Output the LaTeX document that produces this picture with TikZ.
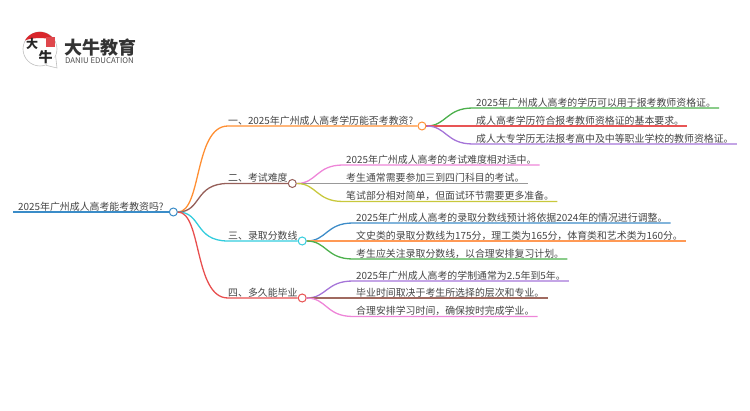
\documentclass[tikz,border=0pt]{standalone}
\usepackage{fontspec}
\setmainfont{Noto Sans CJK SC}
\usepackage{xcolor}
\usetikzlibrary{positioning}
\definecolor{inktext}{HTML}{444444}
\definecolor{rootblue}{HTML}{3A8CC8}
\definecolor{orange1}{HTML}{FF8F33}
\definecolor{brown1}{HTML}{96605A}
\definecolor{cyan1}{HTML}{33CCDD}
\definecolor{red1}{HTML}{E84F4F}
\definecolor{green1}{HTML}{4CB04C}
\definecolor{red2}{HTML}{E85555}
\definecolor{purple1}{HTML}{A574D8}
\definecolor{pink1}{HTML}{EE85D8}
\definecolor{grey1}{HTML}{999999}
\definecolor{olive1}{HTML}{C8C83C}
\definecolor{blue1}{HTML}{3D8CC8}
\definecolor{orange2}{HTML}{FF9955}
\definecolor{brown2}{HTML}{A06A60}
\definecolor{sealred}{HTML}{D9262C}
\begin{document}
\begin{tikzpicture}[
    x=1pt, y=1pt,
    txt/.style={anchor=south west, inner xsep=0pt, inner ysep=0.6pt, text=inktext, font=\fontsize{9.9}{12}\selectfont},
    leaf/.style={txt, inner xsep=3pt},
    dot/.style={circle, draw=#1, fill=white, line width=1pt, inner sep=0pt, minimum size=8pt, anchor=west},
    link/.style={line width=1.3pt, color=#1},
    hand/.style={font=\fontsize{#1}{#1}\bfseries\selectfont, text=black!85, inner sep=0pt}
]
\useasboundingbox (0,0) rectangle (750,410);

% Logo
\node[circle, draw=black!25, fill=white, line width=0.6pt, minimum size=34pt, inner sep=0pt] (bubble) at (40,361) {};
\coordinate (tail) at (57,342);
\draw[black!25, fill=white, line width=0.6pt] (bubble.-70) -- (tail) -- (bubble.-25);
\fill[sealred] (bubble.150) arc[start angle=150, end angle=30, radius=17pt] .. controls +(-8,3) and +(8,3) .. (bubble.150);
\fill[sealred!85] (46,363) rectangle (55,373);
\node[hand=12] (bigchar) at (32,366.5) {大};
\node[hand=14] (oxchar) at (45.5,353) {牛};
\node[anchor=west, inner sep=0pt, font=\fontsize{18}{18}\bfseries\selectfont, text=black!80] (brand) at (64,362) {大牛教育};
\node[anchor=west, inner sep=0pt, font=\fontsize{7.8}{8}\selectfont, text=black!70] (brandsub) at (65,349) {DANIU EDUCATION};

% Root
\node[txt, inner xsep=5pt] (root) at (13,198) {2025年广州成人高考能考教资吗?};
\node[dot=rootblue] (c0) at (root.south east) {};
\draw[link=rootblue] (root.south west) -- (c0.west);

% Branches
\node[txt] (one) at (228,284) {一、2025年广州成人高考学历能否考教资?};
\node[txt] (two) at (228,226.5) {二、考试难度};
\node[txt] (three) at (228,169) {三、录取分数线};
\node[txt] (four) at (228,112) {四、多久能毕业};
\node[dot=orange1, right=4pt of one.south east] (c1) {};
\node[dot=brown1] (c2) at (two.south east) {};
\node[dot=cyan1] (c3) at (three.south east) {};
\node[dot=red1] (c4) at (four.south east) {};

\draw[link=orange1] (c0.east) .. controls +(24,0) and +(-34,0) .. (one.south west) -- (c1.west);
\draw[link=brown1] (c0.east) .. controls +(24,0) and +(-34,0) .. (two.south west) -- (c2.west);
\draw[link=cyan1] (c0.east) .. controls +(24,0) and +(-34,0) .. (three.south west) -- (c3.west);
\draw[link=red1] (c0.east) .. controls +(24,0) and +(-34,0) .. (four.south west) -- (c4.west);

% Leaves of one
\node[leaf] (a1) at (473,302) {2025年广州成人高考的学历可以用于报考教师资格证。};
\node[leaf] (a2) at (473,284) {成人高考学历符合报考教师资格证的基本要求。};
\node[leaf] (a3) at (473,266) {成人大专学历无法报考高中及中等职业学校的教师资格证。};
\draw[link=green1] (c1.east) .. controls +(20,0) and +(-27,0) .. (a1.south west) -- (a1.south east);
\draw[link=red2] (c1.east) -- (a2.south west) -- (a2.south east);
\draw[link=purple1] (c1.east) .. controls +(20,0) and +(-27,0) .. (a3.south west) -- (a3.south east);

% Leaves of two
\node[leaf] (b1) at (343,245) {2025年广州成人高考的考试难度相对适中。};
\node[leaf] (b2) at (343,226.5) {考生通常需要参加三到四门科目的考试。};
\node[leaf] (b3) at (343,208.5) {笔试部分相对简单，但面试环节需要更多准备。};
\draw[link=pink1] (c2.east) .. controls +(20,0) and +(-27,0) .. (b1.south west) -- (b1.south east);
\draw[link=grey1] (c2.east) -- (b2.south west) -- (b2.south east);
\draw[link=olive1] (c2.east) .. controls +(20,0) and +(-27,0) .. (b3.south west) -- (b3.south east);

% Leaves of three
\node[leaf] (d1) at (353,187) {2025年广州成人高考的录取分数线预计将依据2024年的情况进行调整。};
\node[leaf] (d2) at (353,169) {文史类的录取分数线为175分，理工类为165分，体育类和艺术类为160分。};
\node[leaf] (d3) at (353,151) {考生应关注录取分数线，以合理安排复习计划。};
\draw[link=blue1] (c3.east) .. controls +(20,0) and +(-27,0) .. (d1.south west) -- (d1.south east);
\draw[link=orange2] (c3.east) -- (d2.south west) -- (d2.south east);
\draw[link=green1] (c3.east) .. controls +(20,0) and +(-27,0) .. (d3.south west) -- (d3.south east);

% Leaves of four
\node[leaf] (e1) at (353,129) {2025年广州成人高考的学制通常为2.5年到5年。};
\node[leaf] (e2) at (353,112) {毕业时间取决于考生所选择的层次和专业。};
\node[leaf] (e3) at (353,93.5) {合理安排学习时间，确保按时完成学业。};
\draw[link=purple1] (c4.east) .. controls +(20,0) and +(-27,0) .. (e1.south west) -- (e1.south east);
\draw[link=brown2] (c4.east) -- (e2.south west) -- (e2.south east);
\draw[link=pink1] (c4.east) .. controls +(20,0) and +(-27,0) .. (e3.south west) -- (e3.south east);
\end{tikzpicture}
\end{document}
